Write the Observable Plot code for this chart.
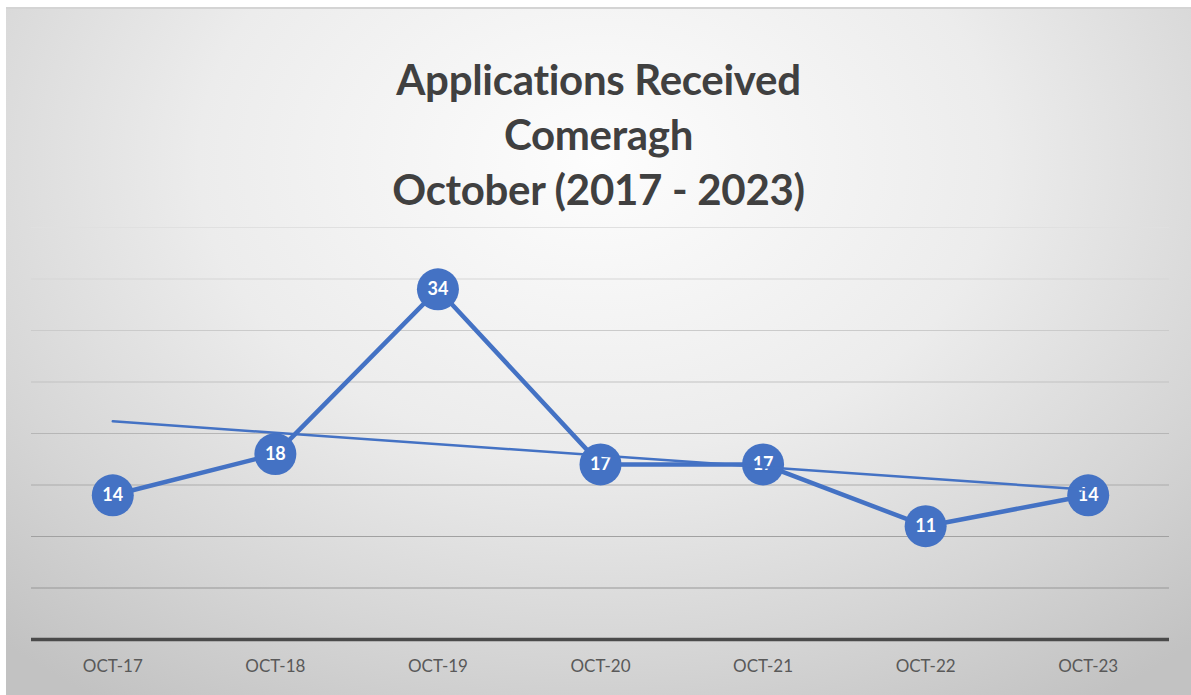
<!DOCTYPE html>
<html>
<head>
<meta charset="utf-8">
<script src="https://cdn.jsdelivr.net/npm/d3@7"></script>
<script src="https://cdn.jsdelivr.net/npm/@observablehq/plot@0.6"></script>
<style>
  html, body { margin: 0; padding: 0; background: #ffffff; width: 1191px; height: 695px; overflow: hidden; }
  #frame {
    position: absolute; left: 6px; top: 7px; width: 1185px; height: 688px;
    background: radial-gradient(ellipse 75% 95% at 50% 22%, #fdfdfd 0%, #ececec 45%, #d6d6d6 75%, #c2c2c2 100%);
    border-top: 2px solid #d4d4d4;
    box-sizing: border-box;
  }
  #title {
    position: absolute; left: 6px; top: 52px; width: 1185px;
    text-align: center; font-family: Lato, "Open Sans", sans-serif; font-weight: 700;
    font-size: 42px; line-height: 55px; color: #404040; letter-spacing: -0.3px;
  }
  #chart { position: absolute; left: 6px; top: 220px; }
</style>
</head>
<body>
<div id="frame"></div>
<div id="title">Applications Received<br>Comeragh<br>October (2017 - 2023)</div>
<div id="chart"></div>
<script>
const months = ["OCT-17", "OCT-18", "OCT-19", "OCT-20", "OCT-21", "OCT-22", "OCT-23"];
const applications = [14, 18, 34, 17, 17, 11, 14];
const gridValues = [5, 10, 15, 20, 25, 30, 35, 40];

const data = months.map((m, i) => ({i, month: m, value: applications[i]}));
const blue = "#4472C4";
const gridColor = d3.interpolateRgb("#8c8c8c", "#e0e0e0");

const chart = Plot.plot({
  width: 1185,
  height: 475,
  marginLeft: 25,
  marginRight: 22,
  marginTop: 7,
  marginBottom: 56,
  style: {background: "transparent", overflow: "visible"},
  x: {type: "linear", domain: [-0.5, 6.5], axis: null, label: null},
  y: {domain: [0, 40], axis: null, label: null},
  marks: [
    Plot.ruleY(gridValues, {stroke: d => gridColor(d / 40), strokeWidth: 1.2}),
    Plot.ruleY([0], {stroke: "#4a4a4a", strokeWidth: 3.5}),
    Plot.axisX(d3.range(months.length), {
      tickFormat: i => months[i], tickSize: 0, tickPadding: 20, label: null,
      fontSize: 17, fill: "#595959", fontFamily: "Lato, 'Open Sans', sans-serif"
    }),
    Plot.line(data, {x: "i", y: "value", stroke: blue, strokeWidth: 4.5}),
    Plot.dot(data, {x: "i", y: "value", r: 21, fill: blue}),
    Plot.text(data, {x: "i", y: "value", text: d => String(d.value), fill: "white",
      fontWeight: "bold", fontSize: 18, fontFamily: "Lato, 'Open Sans', sans-serif"}),
    Plot.linearRegressionY(data, {x: "i", y: "value", stroke: blue, strokeWidth: 2.5, ci: 0})
  ]
});
document.getElementById("chart").appendChild(chart);
</script>
</body>
</html>
